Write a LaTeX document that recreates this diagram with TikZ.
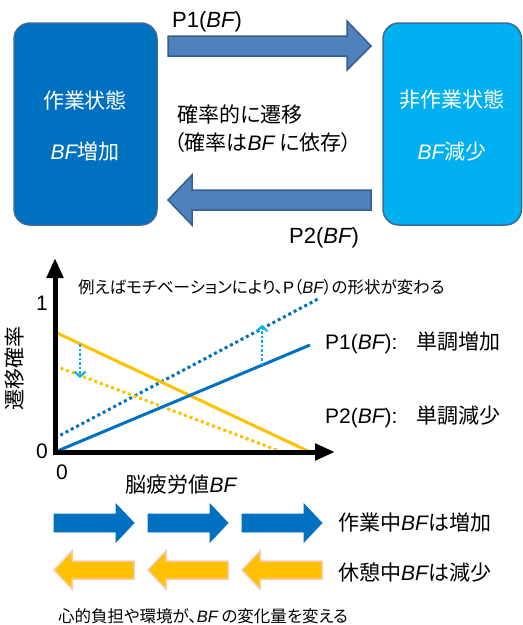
\documentclass[tikz,border=0pt]{standalone}
\usepackage{fontspec}
\setmainfont{Noto Sans CJK JP}[RawFeature=+palt]
\newfontfamily\lat{Liberation Sans}
\newcommand\bfx{{\lat\itshape BF}}
\usetikzlibrary{arrows.meta}
\definecolor{dblue}{HTML}{0070C0}
\definecolor{cyanb}{HTML}{00B0F0}
\definecolor{boxedge}{HTML}{3A6A96}
\definecolor{farrow}{HTML}{4F81BD}
\definecolor{farrowedge}{HTML}{385D8A}
\definecolor{orng}{HTML}{FFC000}
\definecolor{orngedge}{HTML}{F8CBAD}
\tikzset{
  big/.style={font=\fontsize{21}{25}\selectfont, inner sep=0pt},
  small/.style={font=\fontsize{16.5}{19}\selectfont, inner sep=0pt},
  statebox/.style={rounded corners=16pt, line width=1.5pt, draw=boxedge},
  fatarrow/.style={fill=farrow, draw=farrowedge, line width=1.5pt},
  bluearrow/.style={fill=dblue, draw=dblue, line width=0.8pt},
  orangearrow/.style={fill=orng, draw=orngedge, line width=1.5pt},
  axis/.style={line width=5pt, -{Triangle[width=16pt,length=20pt]}},
  curve/.style={line width=3pt},
  dots/.style={line width=3pt, dash pattern=on 3pt off 3pt},
  shiftarrow/.style={line width=2.5pt, cyanb, dash pattern=on 2.5pt off 2pt, -{Straight Barb[length=5pt,width=11pt,line width=2pt]}},
}
\begin{document}
\begin{tikzpicture}[x=1pt,y=-1pt]
\useasboundingbox (0,0) rectangle (523,625);
% state boxes
\draw[statebox, fill=dblue] (14,23) rectangle (157,225);
\draw[statebox, fill=cyanb] (383,23) rectangle (521.5,225);
\node[big, text=white] (work) at (85,100) {作業状態};
\node[big, text=white] (workbf) at (85,152) {\bfx 増加};
\node[big, text=white] (rest) at (452,100) {非作業状態};
\node[big, text=white] (restbf) at (452,152) {\bfx 減少};
% fat transition arrows
\draw[fatarrow] (168,36) -- (347,36) -- (347,21) -- (371,46) -- (347,70) -- (347,56) -- (168,56) -- cycle;
\draw[fatarrow] (371,190) -- (192,190) -- (192,175) -- (168,200) -- (192,225) -- (192,210) -- (371,210) -- cycle;
\node[big, font=\fontsize{22}{26}\selectfont, anchor=base west] (p1lab) at (172,27) {\lat P1(\bfx)};
\node[big, font=\fontsize{22}{26}\selectfont, anchor=base west] (p2lab) at (289,243) {\lat P2(\bfx)};
\node[big, anchor=west] (mid1) at (177,115) {確率的に遷移};
\node[big, anchor=west] (mid2) at (174,143) {（確率は\bfx\ に依存）};
% graph
\coordinate (O) at (55,452);
\coordinate (ytop) at (55,258);
\coordinate (xend) at (335,452);
\coordinate (p1a) at (55,452);
\coordinate (p1b) at (310,345);
\coordinate (q1a) at (55,438);
\coordinate (q1b) at (318,299);
\coordinate (p2a) at (55,332);
\coordinate (p2b) at (310,452);
\coordinate (q2a) at (55,366);
\coordinate (q2b) at (282,452);
\coordinate (sd1) at (80,344);
\coordinate (sd2) at (80,378);
\coordinate (su1) at (262,365);
\coordinate (su2) at (262,325);
\draw[dots, dblue] (q1a) -- (q1b);
\draw[dots, orng] (q2a) -- (q2b);
\draw[curve, orng] (p2a) -- (p2b);
\draw[curve, dblue] (p1a) -- (p1b);
\draw[shiftarrow] (sd1) -- (sd2);
\draw[shiftarrow] (su1) -- (su2);
\draw[axis] ([yshift=-2.5pt]O) -- (ytop);
\draw[axis] ([xshift=-2.5pt]O) -- (xend);
\node[big] (one) at (42,303) {\lat 1};
\node[big] (zeroy) at (42,451) {\lat 0};
\node[big] (zerox) at (62,472) {\lat 0};
\node[big, rotate=90] (ylab) at (15,368) {遷移確率};
\node[big] (xlab) at (181,485) {脳疲労値\bfx};
\node[small, anchor=west] (note) at (78,287) {例えばモチベーションにより、{\lat P}（\bfx）の形状が変わる};
\node[big, anchor=west] (p1desc) at (325,343) {{\lat P1(\bfx):}\hspace{19pt}単調増加};
\node[big, anchor=west] (p2desc) at (325,417) {{\lat P2(\bfx):}\hspace{19pt}単調減少};
% BF change arrows
\foreach \x in {54,148,242} {
  \draw[bluearrow] (\x,514) -- (\x+62,514) -- (\x+62,504) -- (\x+80,523) -- (\x+62,542) -- (\x+62,532) -- (\x,532) -- cycle;
  \draw[orangearrow] (\x+80,561) -- (\x+18,561) -- (\x+18,551) -- (\x,570) -- (\x+18,589) -- (\x+18,579) -- (\x+80,579) -- cycle;
}
\node[big, anchor=west] (worktxt) at (338,523) {作業中\bfx は増加};
\node[big, anchor=west] (resttxt) at (338,572) {休憩中\bfx は減少};
\node[small, anchor=west] (foot) at (58,616) {心的負担や環境が、\bfx\ の変化量を変える};
\end{tikzpicture}
\end{document}
